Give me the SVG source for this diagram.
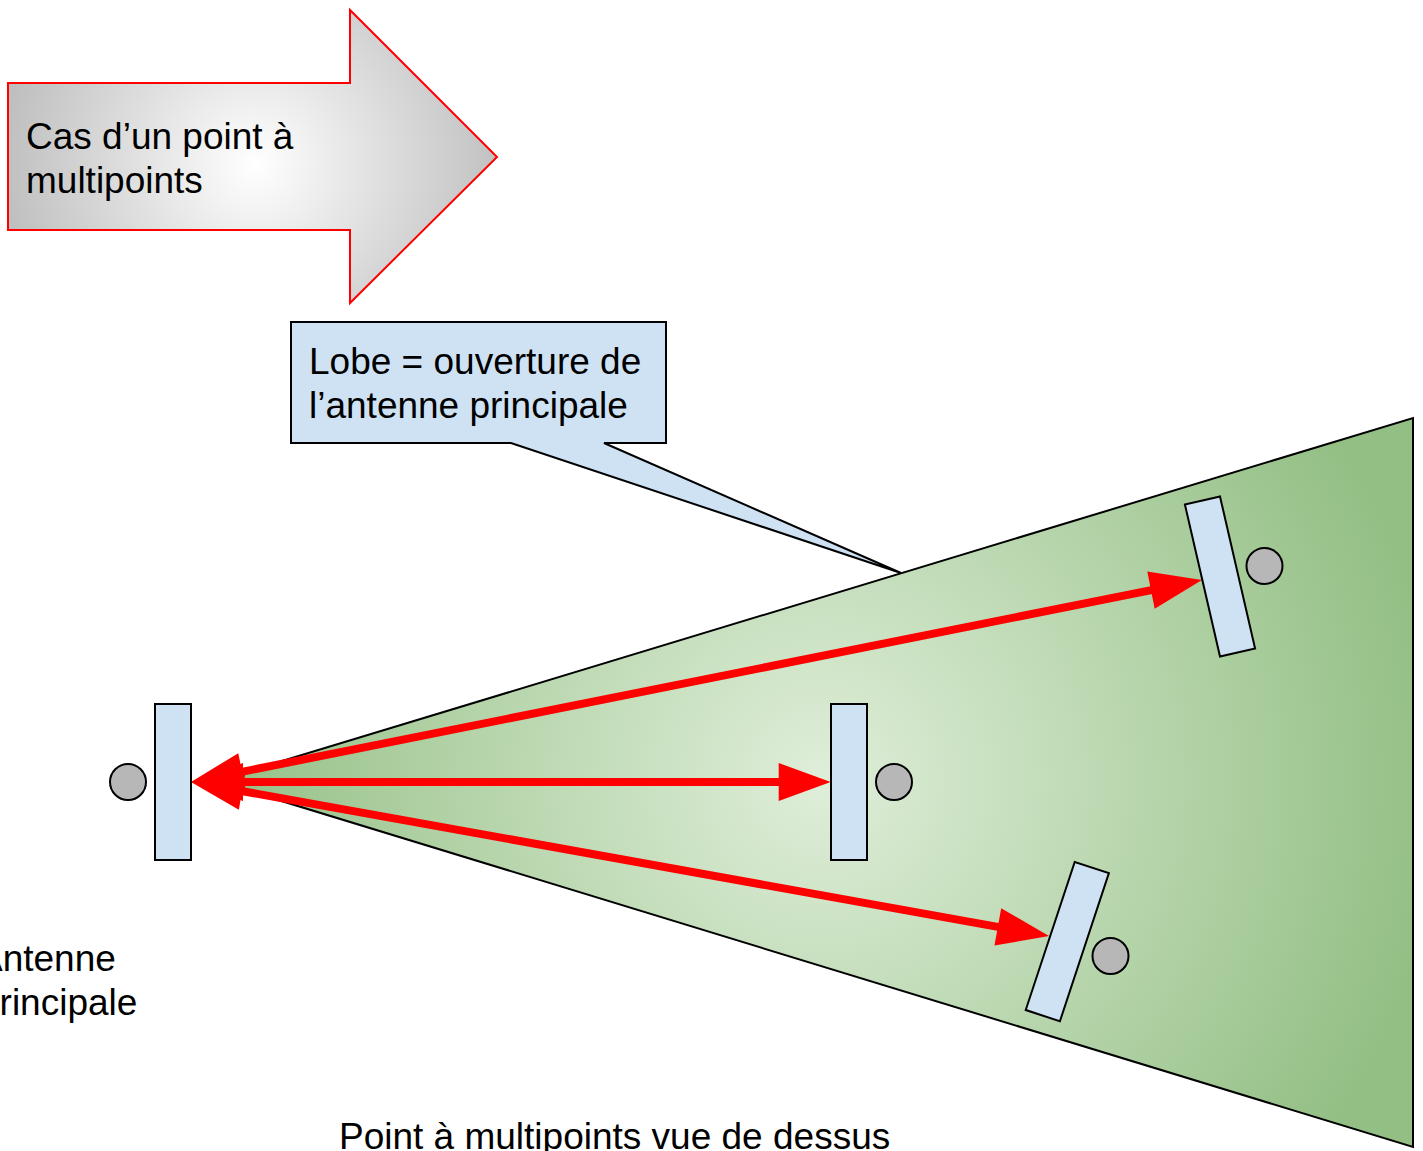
<svg xmlns="http://www.w3.org/2000/svg" width="1423" height="1151" viewBox="0 0 1423 1151">
  <style>
    .txt { font-family: "Liberation Sans", Arial, sans-serif; font-size: 37px; fill: #000; }
    .ant { fill: #cfe2f3; stroke: #000; stroke-width: 2; }
    .dot { fill: #b7b7b7; stroke: #000; stroke-width: 2; }
    .link { fill: none; stroke: #ff0000; stroke-width: 8; marker-start: url(#head); marker-end: url(#head); }
  </style>
  <defs>
    <radialGradient id="gArrow" gradientUnits="userSpaceOnUse" cx="255" cy="165" r="260">
      <stop offset="0" stop-color="#ffffff"/>
      <stop offset="1" stop-color="#bdbdbd"/>
    </radialGradient>
    <radialGradient id="gLobe" gradientUnits="userSpaceOnUse" cx="820" cy="780" r="620">
      <stop offset="0" stop-color="#dfeed9"/>
      <stop offset="1" stop-color="#93bf84"/>
    </radialGradient>
    <marker id="head" markerUnits="userSpaceOnUse" markerWidth="54" markerHeight="40" refX="40" refY="20" orient="auto-start-reverse" overflow="visible">
      <path d="M0,1 L52,20 L0,39 z" fill="#ff0000"/>
    </marker>
  </defs>

  <g id="title-arrow">
    <path d="M8,83 L350,83 L350,10 L497,157 L350,303 L350,230 L8,230 Z" fill="url(#gArrow)" stroke="#ff0000" stroke-width="2"/>
    <text class="txt" x="26" y="149">Cas d’un point à</text>
    <text class="txt" x="26" y="193">multipoints</text>
  </g>

  <g id="lobe">
    <path d="M216,781 L1413,418 L1413,1147 Z" fill="url(#gLobe)" stroke="#000" stroke-width="2"/>
  </g>

  <g id="callout">
    <path d="M291,322 L666,322 L666,443 L604,443 L901,573 L511,443 L291,443 Z" fill="#cfe2f3" stroke="#000" stroke-width="2"/>
    <text class="txt" x="309" y="374">Lobe = ouverture de</text>
    <text class="txt" x="309" y="418">l’antenne principale</text>
  </g>

  <g id="connectors">
    <path class="link" d="M203,782 L818.7,782"/>
    <path class="link" d="M202.8,779.6 L1190.2,582.4"/>
    <path class="link" d="M202.8,784.1 L1037.2,933.9"/>
  </g>

  <g id="antenne-principale">
    <rect class="ant" x="155" y="704" width="36" height="156"/>
    <circle class="dot" cx="128" cy="782" r="18"/>
    <text class="txt" x="-22" y="971">Antenne</text>
    <text class="txt" x="-21" y="1015">principale</text>
  </g>

  <g id="antenne-centre">
    <rect class="ant" x="831" y="704" width="36" height="156"/>
    <circle class="dot" cx="894" cy="782" r="18"/>
  </g>

  <g id="antenne-haut">
    <rect class="ant" x="1202" y="498.5" width="36" height="156" transform="rotate(-13 1220 576.5)"/>
    <circle class="dot" cx="1264.5" cy="566" r="18"/>
  </g>

  <g id="antenne-bas">
    <rect class="ant" x="1049.3" y="863.6" width="36" height="156" transform="rotate(18.3 1067.3 941.6)"/>
    <circle class="dot" cx="1110.5" cy="956" r="18"/>
  </g>

  <g id="caption">
    <text class="txt" x="339" y="1149">Point à multipoints vue de dessus</text>
  </g>
</svg>
